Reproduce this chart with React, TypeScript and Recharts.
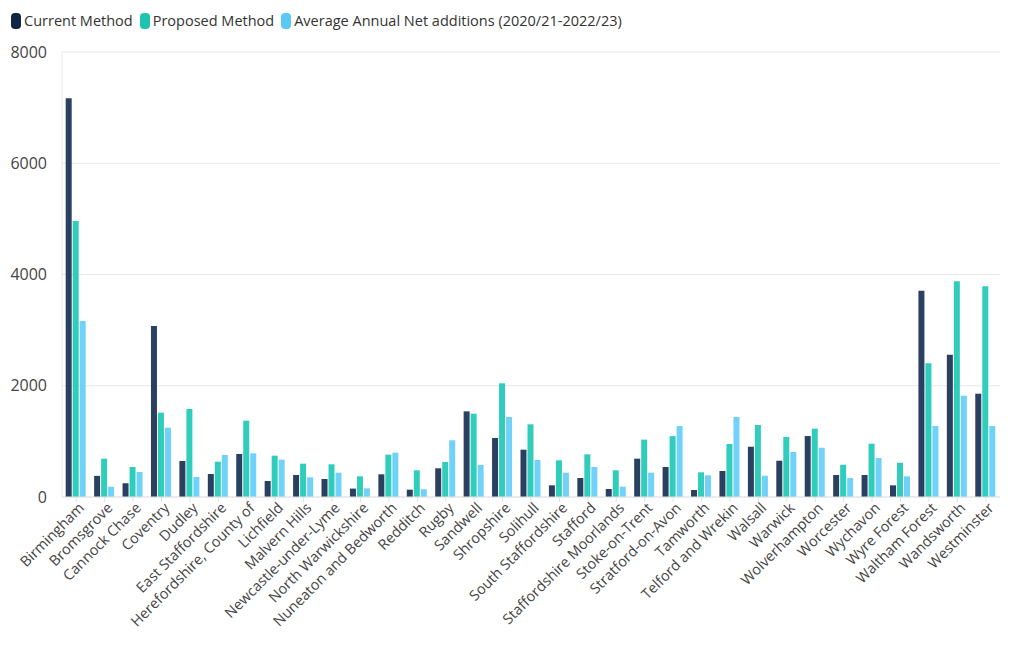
import { Bar, BarChart, CartesianGrid, XAxis, YAxis } from "recharts";

const areas = [
  "Birmingham", "Bromsgrove", "Cannock Chase", "Coventry", "Dudley",
  "East Staffordshire", "Herefordshire, County of", "Lichfield", "Malvern Hills",
  "Newcastle-under-Lyme", "North Warwickshire", "Nuneaton and Bedworth", "Redditch",
  "Rugby", "Sandwell", "Shropshire", "Solihull", "South Staffordshire", "Stafford",
  "Staffordshire Moorlands", "Stoke-on-Trent", "Stratford-on-Avon", "Tamworth",
  "Telford and Wrekin", "Walsall", "Warwick", "Wolverhampton", "Worcester",
  "Wychavon", "Wyre Forest", "Waltham Forest", "Wandsworth", "Westminster",
];

const currentMethod = [
  7170, 380, 246, 3074, 647, 413, 773, 288, 396, 324, 151, 408, 132, 516, 1540,
  1061, 851, 210, 342, 144, 689, 540, 126, 467, 904, 652, 1096, 395, 395, 210,
  3709, 2558, 1857,
];

const proposedMethod = [
  4962, 689, 540, 1516, 1582, 635, 1372, 743, 599, 588, 372, 761, 480, 630, 1498,
  2044, 1307, 660, 767, 480, 1031, 1094, 444, 953, 1294, 1078, 1228, 580, 958, 616,
  2403, 3877, 3787,
];

const averageNet = [
  3164, 185, 449, 1246, 360, 755, 785, 671, 354, 437, 155, 797, 140, 1019, 575,
  1438, 665, 437, 540, 186, 437, 1276, 390, 1438, 383, 809, 886, 341, 701, 372,
  1276, 1821, 1276,
];

const yTicks = [0, 2000, 4000, 6000, 8000];

const seriesList = [
  { key: "current", name: "Current Method", color: "#2b4061", legendColor: "#0f2547" },
  { key: "proposed", name: "Proposed Method", color: "#30cdbd", legendColor: "#1fc4b0" },
  { key: "average", name: "Average Annual Net additions (2020/21-2022/23)", color: "#70d2f8", legendColor: "#5cc9f5" },
];

const chartData = areas.map((area, i) => ({
  area,
  current: currentMethod[i],
  proposed: proposedMethod[i],
  average: averageNet[i],
}));

const FONT = "'Open Sans', 'Noto Sans', sans-serif";

// legend sits above the plot, drawn as plain html so it doesn't push the plot down
function TopLegend() {
  return (
    <div
      style={{
        position: "absolute",
        top: 11,
        left: 11,
        display: "flex",
        alignItems: "center",
        fontFamily: FONT,
        fontSize: 14.5,
        color: "#333",
      }}
    >
      {seriesList.map((s) => (
        <span key={s.key} style={{ display: "flex", alignItems: "center", marginRight: 7 }}>
          <span
            style={{
              display: "inline-block",
              width: 10,
              height: 16,
              borderRadius: 4,
              background: s.legendColor,
              marginRight: 3,
            }}
          />
          {s.name}
        </span>
      ))}
    </div>
  );
}

function AngledTick(props: any) {
  const { x, y, payload } = props;
  return (
    <g transform={`translate(${x + 6},${y + 2})`}>
      <text
        textAnchor="end"
        transform="rotate(-45)"
        fontFamily={FONT}
        fontSize={14.5}
        fill="#444"
        dy={4}
      >
        {payload.value}
      </text>
    </g>
  );
}

export default function App() {
  return (
    <div style={{ margin: -8, background: "#fff", width: 1020, height: 650, position: "relative" }}>
      <TopLegend />
      <BarChart
        width={1020}
        height={650}
        data={chartData}
        margin={{ top: 52, right: 20, left: 0, bottom: 0 }}
        barCategoryGap="13%"
        barGap={1}
      >
        <CartesianGrid vertical={false} stroke="#e8e8e8" />
        <XAxis
          dataKey="area"
          interval={0}
          height={153}
          tick={<AngledTick />}
          stroke="#e3e3e3"
          tickSize={5}
        />
        <YAxis
          width={62}
          domain={[0, 8000]}
          ticks={yTicks}
          stroke="#ececec"
          tickLine={false}
          tick={{ fill: "#444", fontSize: 16, fontFamily: FONT }}
          tickMargin={9}
        />
        {seriesList.map((s) => (
          <Bar
            key={s.key}
            dataKey={s.key}
            name={s.name}
            fill={s.color}
            isAnimationActive={false}
          />
        ))}
      </BarChart>
    </div>
  );
}
